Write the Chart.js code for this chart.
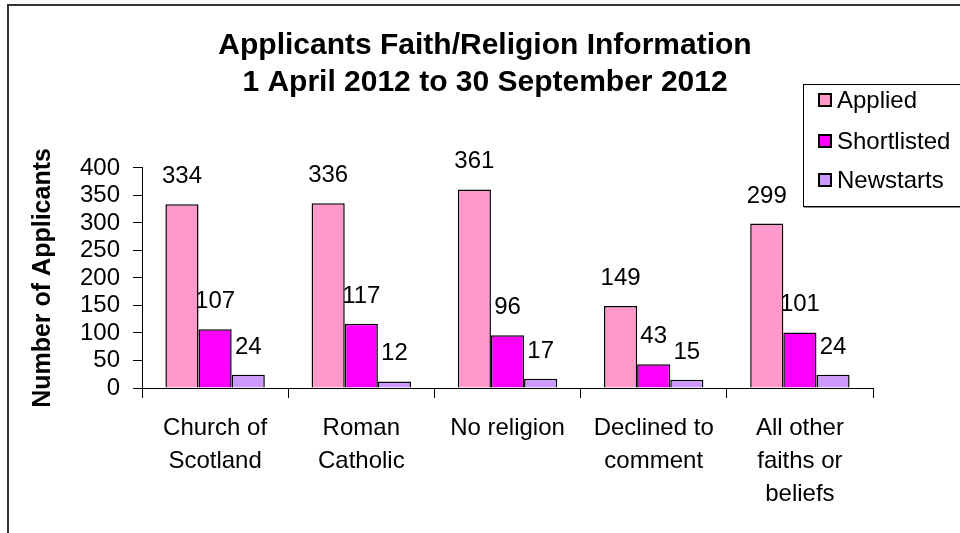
<!DOCTYPE html>
<html>
<head>
<meta charset="utf-8">
<title>Applicants Faith/Religion Information</title>
<script src="https://cdn.jsdelivr.net/npm/chart.js@4"></script>
<style>
    body { margin: 0; background: #fff; }
    canvas { display: block; }
</style>
</head>
<body>
<canvas id="myChart" width="960" height="533"></canvas>
<script>
"use strict";

var categories = [
    ['Church of', 'Scotland'],
    ['Roman', 'Catholic'],
    'No religion',
    ['Declined to', 'comment'],
    ['All other', 'faiths or', 'beliefs']
];
var applied = [334, 336, 361, 149, 299];
var shortlisted = [107, 117, 96, 43, 101];
var newstarts = [24, 12, 17, 15, 24];
var yMin = 0, yMax = 400, yStep = 50;

var FONT = "'Liberation Sans', Arial, sans-serif";

/* outer frame, value labels and the boxed legend */
var decorations = {
    id: 'decorations',
    beforeDraw: function (chart) {
        var c = chart.ctx;
        c.save();
        c.fillStyle = '#fff';
        c.fillRect(0, 0, chart.width, chart.height);
        c.strokeStyle = '#333';
        c.lineWidth = 2;
        c.strokeRect(8, 5, 1200, 800);
        c.restore();
    },
    afterDatasetsDraw: function (chart) {
        var c = chart.ctx;
        c.save();
        c.font = '24px ' + FONT;
        c.fillStyle = '#000';
        c.textAlign = 'center';
        c.textBaseline = 'alphabetic';
        chart.data.datasets.forEach(function (ds, i) {
            chart.getDatasetMeta(i).data.forEach(function (bar, j) {
                c.fillText(ds.data[j], bar.x, bar.y - 21);
            });
        });
        c.restore();
    },
    afterDraw: function (chart) {
        var c = chart.ctx;
        c.save();
        // legend box
        c.fillStyle = '#fff';
        c.fillRect(803, 84, 200, 122);
        c.strokeStyle = '#000';
        c.lineWidth = 1;
        c.strokeRect(803.5, 84.5, 200, 122);
        c.strokeStyle = '#888';
        c.beginPath();
        c.moveTo(804, 207.5);
        c.lineTo(960, 207.5);
        c.stroke();
        c.font = '24px ' + FONT;
        c.textAlign = 'left';
        c.textBaseline = 'middle';
        var rows = [100, 141, 180];
        chart.data.datasets.forEach(function (ds, i) {
            c.fillStyle = ds.backgroundColor;
            c.fillRect(819, rows[i] - 6, 12, 12);
            c.lineWidth = 2;
            c.strokeStyle = '#000';
            c.strokeRect(819, rows[i] - 6, 12, 12);
            c.fillStyle = '#000';
            c.fillText(ds.label, 837, rows[i] + 1);
        });
        c.restore();
    }
};

var ctx = document.getElementById('myChart').getContext('2d');
var chart = new Chart(ctx, {
    type: 'bar',
    data: {
        labels: categories,
        datasets: [{
                label: 'Applied',
                data: applied,
                backgroundColor: '#FF99CC',
                borderColor: '#000',
                borderWidth: 1.5
            },
            {
                label: 'Shortlisted',
                data: shortlisted,
                backgroundColor: '#FF00FF',
                borderColor: '#000',
                borderWidth: 1.5
            },
            {
                label: 'Newstarts',
                data: newstarts,
                backgroundColor: '#CC99FF',
                borderColor: '#000',
                borderWidth: 1.5
            }
        ]
    },
    options: {
        responsive: false,
        animation: false,
        categoryPercentage: 0.68,
        barPercentage: 1.0,
        layout: {
            padding: { left: 10, right: 0, top: 0, bottom: 0 }
        },
        plugins: {
            legend: { display: false },
            tooltip: { enabled: false },
            title: {
                display: true,
                text: ['Applicants Faith/Religion Information', '1 April 2012 to 30 September 2012'],
                color: '#000',
                font: { family: FONT, size: 30, weight: 'bold', lineHeight: 1.233 },
                padding: { top: 27.5, bottom: 66.5 }
            }
        },
        scales: {
            x: {
                grid: {
                    offset: true,
                    drawOnChartArea: false,
                    drawTicks: true,
                    tickLength: 10,
                    color: '#000'
                },
                border: { color: '#000', width: 1 },
                ticks: {
                    color: '#000',
                    padding: 13.5,
                    maxRotation: 0,
                    autoSkip: false,
                    font: { family: FONT, size: 24, lineHeight: 1.375 }
                },
                afterFit: function (scale) { scale.height = 145; }
            },
            y: {
                min: yMin,
                max: yMax,
                grid: {
                    drawOnChartArea: false,
                    drawTicks: true,
                    tickLength: 9,
                    color: '#000'
                },
                border: { color: '#000', width: 1 },
                ticks: {
                    stepSize: yStep,
                    autoSkip: false,
                    color: '#000',
                    padding: 13,
                    font: { family: FONT, size: 24 }
                },
                title: {
                    display: true,
                    text: 'Number of Applicants',
                    color: '#000',
                    font: { family: FONT, size: 25, weight: 'bold', lineHeight: 1.2 },
                    padding: { top: 18, bottom: 0 }
                },
                afterFit: function (scale) { scale.width = 132; }
            },
            // empty scale that keeps the space on the right of the plot
            spacer: {
                position: 'right',
                display: true,
                grid: { display: false },
                border: { display: false },
                ticks: { display: false },
                afterFit: function (scale) { scale.width = 87; }
            }
        }
    },
    plugins: [decorations]
});
</script>
</body>
</html>
